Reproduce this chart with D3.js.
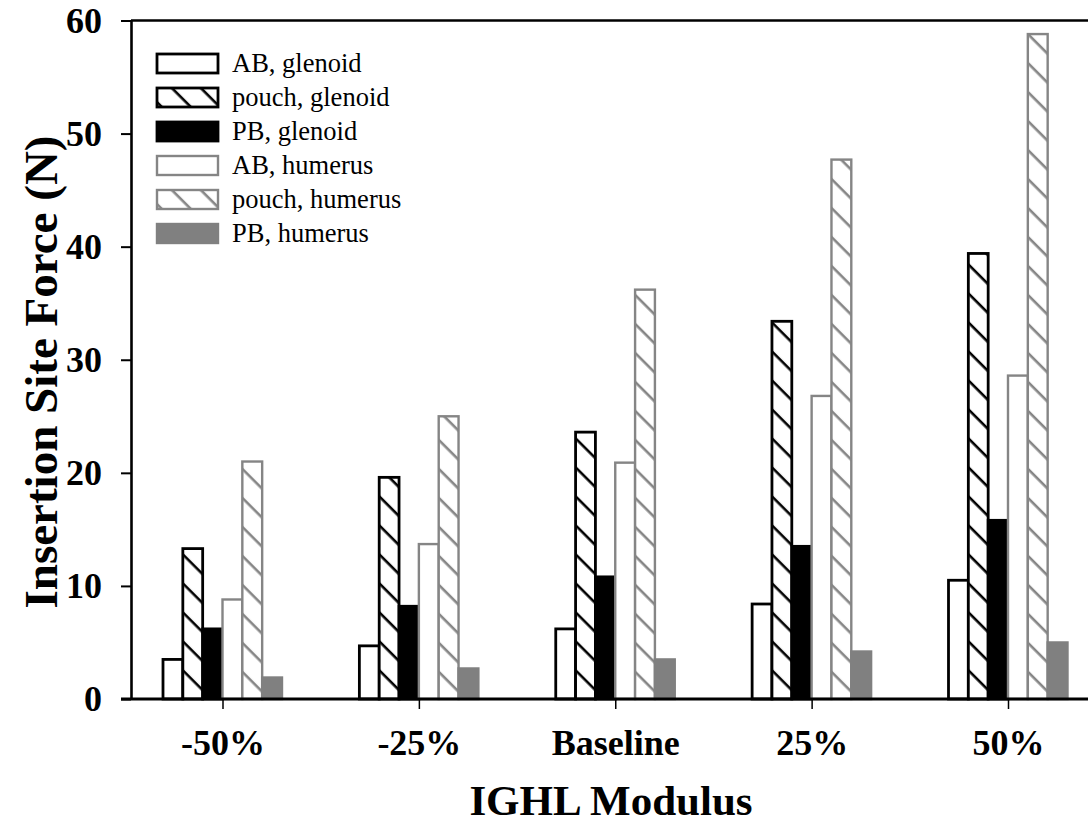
<!DOCTYPE html>
<html>
<head>
<meta charset="utf-8">
<script src="https://d3js.org/d3.v7.min.js"></script>
<style>
body {
    margin: 0;
    background: #fff;
}
svg {
    display: block;
    font-family: "Liberation Serif", "Times New Roman", serif;
}
.tick-label {
    font-size: 36px;
    font-weight: bold;
    fill: #000;
}
.axis-title {
    font-weight: bold;
    fill: #000;
}
.legend-text {
    font-size: 26.5px;
    fill: #000;
}
</style>
</head>
<body>
<script>
// values (N)
var categories = ["-50%", "-25%", "Baseline", "25%", "50%"];
var series = ["AB, glenoid", "pouch, glenoid", "PB, glenoid", "AB, humerus", "pouch, humerus", "PB, humerus"];

var abGlenoid    = [3.5, 4.7, 6.2, 8.4, 10.5];
var pouchGlenoid = [13.3, 19.6, 23.6, 33.4, 39.4];
var pbGlenoid    = [6.2, 8.2, 10.8, 13.5, 15.8];
var abHumerus    = [8.8, 13.7, 20.9, 26.8, 28.6];
var pouchHumerus = [21.0, 25.0, 36.2, 47.7, 58.8];
var pbHumerus    = [1.9, 2.7, 3.5, 4.2, 5.0];

var yTicks = [0, 10, 20, 30, 40, 50, 60];

var values = [abGlenoid, pouchGlenoid, pbGlenoid, abHumerus, pouchHumerus, pbHumerus];

var GRAY = "#858585";
// look of each series: fill type and colour
var styles = [
    { kind: "open",  color: "#000" },
    { kind: "hatch", color: "#000" },
    { kind: "solid", color: "#000" },
    { kind: "open",  color: GRAY },
    { kind: "hatch", color: GRAY },
    { kind: "solid", color: "#808080" }
];

var W = 1088, H = 823;
var plotLeft = 131, plotRight = 1100, plotTop = 20.5, plotBottom = 699;

var svg = d3.select("body").append("svg")
    .attr("width", W)
    .attr("height", H);

var defs = svg.append("defs");
["#000", GRAY].forEach(function(c, i) {
    var p = defs.append("pattern")
        .attr("id", "hatch" + i)
        .attr("patternUnits", "userSpaceOnUse")
        .attr("width", 20.5)
        .attr("height", 20.5)
        .attr("patternTransform", "rotate(45)");
    p.append("rect")
        .attr("width", 20.5)
        .attr("height", 20.5)
        .attr("fill", "#fff");
    p.append("line")
        .attr("x1", -2).attr("x2", 23)
        .attr("y1", 10).attr("y2", 10)
        .attr("stroke", c)
        .attr("stroke-width", 2.6);
});

function fillFor(s) {
    if (s.kind === "open") return "#fff";
    if (s.kind === "solid") return s.color;
    return s.color === "#000" ? "url(#hatch0)" : "url(#hatch1)";
}
function widthFor(s) {
    return s.color === "#000" ? 2.8 : 2.4;
}

var x = d3.scalePoint()
    .domain(categories)
    .range([222.5, 1008]);

var xInner = d3.scaleBand()
    .domain(d3.range(series.length))
    .range([-59.5, 59.5])
    .padding(0);

var y = d3.scaleLinear()
    .domain([0, 60])
    .range([plotBottom, plotTop]);

// bars
var groups = svg.selectAll(".group")
    .data(categories)
    .enter().append("g")
    .attr("class", "group")
    .attr("transform", function(d) { return "translate(" + x(d) + ",0)"; });

groups.selectAll("rect")
    .data(function(d, ci) {
        return values.map(function(v, si) { return { s: si, v: v[ci] }; });
    })
    .enter().append("rect")
    .attr("x", function(d) { return xInner(d.s); })
    .attr("width", xInner.bandwidth())
    .attr("y", function(d) { return y(d.v); })
    .attr("height", function(d) { return plotBottom - y(d.v); })
    .attr("fill", function(d) { return fillFor(styles[d.s]); })
    .attr("stroke", function(d) { return styles[d.s].color; })
    .attr("stroke-width", function(d) { return widthFor(styles[d.s]); });

// y axis
var yAxis = d3.axisLeft(y)
    .tickValues(yTicks)
    .tickSize(10)
    .tickSizeOuter(0)
    .tickPadding(19);

var gy = svg.append("g")
    .attr("transform", "translate(" + plotLeft + ",0)")
    .call(yAxis);
gy.select(".domain").attr("stroke-width", 2.6);
gy.selectAll(".tick line").attr("stroke-width", 2);
gy.selectAll(".tick text")
    .attr("class", "tick-label")
    .style("font-family", "Liberation Serif, serif");

// x axis (ticks at group centres)
var xAxis = d3.axisBottom(x)
    .tickSize(10)
    .tickSizeOuter(0)
    .tickPadding(20);

var gx = svg.append("g")
    .attr("transform", "translate(0," + plotBottom + ")")
    .call(xAxis);
gx.select(".domain").remove();
gx.selectAll(".tick line").attr("stroke-width", 1.5);
gx.selectAll(".tick text")
    .attr("class", "tick-label")
    .attr("dy", "0.72em")
    .style("font-family", "Liberation Serif, serif");

// baseline and top frame line
svg.append("line")
    .attr("x1", plotLeft - 10).attr("x2", plotRight)
    .attr("y1", plotBottom).attr("y2", plotBottom)
    .attr("stroke", "#000")
    .attr("stroke-width", 2.8);
svg.append("line")
    .attr("x1", plotLeft).attr("x2", plotRight)
    .attr("y1", plotTop).attr("y2", plotTop)
    .attr("stroke", "#000")
    .attr("stroke-width", 2.6);

// axis titles
svg.append("text")
    .attr("class", "axis-title")
    .attr("transform", "translate(57,372) rotate(-90)")
    .attr("text-anchor", "middle")
    .style("font-size", "47px")
    .text("Insertion Site Force (N)");

svg.append("text")
    .attr("class", "axis-title")
    .attr("x", 611)
    .attr("y", 815)
    .attr("text-anchor", "middle")
    .style("font-size", "43px")
    .text("IGHL Modulus");

// legend
var legend = svg.append("g")
    .attr("transform", "translate(157,54)");

var item = legend.selectAll(".item")
    .data(series)
    .enter().append("g")
    .attr("class", "item")
    .attr("transform", function(d, i) { return "translate(0," + (i * 34) + ")"; });

item.append("rect")
    .attr("width", 61)
    .attr("height", 19)
    .attr("fill", function(d, i) { return fillFor(styles[i]); })
    .attr("stroke", function(d, i) { return styles[i].color; })
    .attr("stroke-width", function(d, i) { return widthFor(styles[i]); });

item.append("text")
    .attr("class", "legend-text")
    .attr("x", 75)
    .attr("y", 18)
    .text(function(d) { return d; });
</script>
</body>
</html>
